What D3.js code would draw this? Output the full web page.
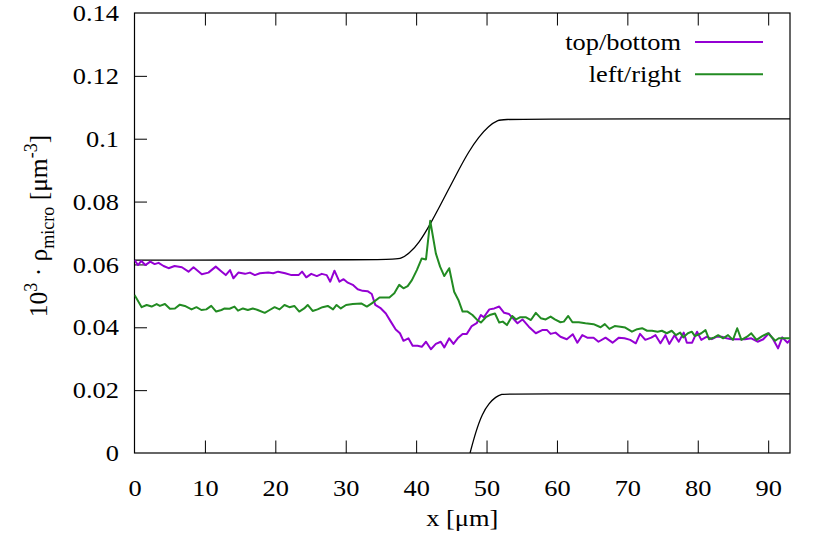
<!DOCTYPE html>
<html>
<head>
<meta charset="utf-8">
<script src="https://cdn.jsdelivr.net/npm/d3@7"></script>
<style>
  body { margin: 0; background: #fff; }
  text { font-family: "Liberation Serif", "Times New Roman", serif; fill: #000; }
</style>
</head>
<body>
<svg id="chart" width="830" height="551"></svg>
<script>
// values: [x in µm, density]
var topBottom = [[0,0.0614],[0.5,0.0598],[0.97,0.0611],[1.54,0.0598],[2.24,0.0609],[2.86,0.0601],[3.42,0.0605],[4.13,0.0595],[4.84,0.0588],[5.69,0.0595],[6.73,0.0591],[7.67,0.0577],[8.38,0.0591],[9.56,0.0569],[10.5,0.0574],[11.54,0.0593],[12.39,0.0577],[12.96,0.0566],[13.57,0.0582],[14.05,0.0556],[14.75,0.0574],[15.7,0.0570],[16.4,0.0574],[17.1,0.0566],[17.8,0.0572],[19.0,0.0574],[19.7,0.0572],[20.4,0.0577],[21.4,0.0572],[22.3,0.0566],[23.3,0.0566],[23.8,0.0577],[24.4,0.0559],[25.1,0.0570],[25.9,0.0563],[26.6,0.0570],[27.3,0.0566],[27.8,0.0545],[28.4,0.0580],[29.1,0.0545],[29.7,0.0553],[30.3,0.0542],[31.0,0.0535],[31.7,0.0521],[32.4,0.0516],[33.1,0.0515],[33.7,0.0506],[34.2,0.0471],[35.0,0.0460],[35.7,0.0444],[36.4,0.0418],[37.1,0.0393],[37.7,0.0381],[38.2,0.0357],[38.9,0.0365],[39.5,0.0341],[40.2,0.0341],[40.8,0.0338],[41.4,0.0354],[42.1,0.0330],[42.8,0.0347],[43.5,0.0354],[44.0,0.0336],[44.7,0.0365],[45.3,0.0347],[45.9,0.0365],[46.6,0.0379],[47.2,0.0379],[47.9,0.0404],[48.6,0.0413],[49.2,0.0439],[49.6,0.0432],[50.4,0.0457],[51.1,0.0460],[51.8,0.0466],[52.5,0.0446],[53.2,0.0442],[54.4,0.0413],[55.1,0.0425],[56.0,0.0402],[57.0,0.0381],[57.9,0.0391],[58.6,0.0391],[59.1,0.0379],[59.8,0.0383],[60.5,0.0370],[61.4,0.0362],[62.25,0.0378],[62.9,0.0351],[63.6,0.0375],[64.3,0.0367],[65.2,0.0367],[65.9,0.0354],[66.9,0.0367],[67.9,0.0351],[68.8,0.0367],[69.6,0.0365],[70.4,0.0360],[71.2,0.0349],[71.8,0.0379],[72.55,0.0360],[73.4,0.0367],[74.0,0.0375],[74.7,0.0349],[75.4,0.0375],[75.95,0.0347],[76.7,0.0375],[77.3,0.0354],[78.0,0.0383],[78.45,0.0351],[79.2,0.0351],[79.9,0.0386],[80.5,0.0360],[81.3,0.0370],[82.0,0.0362],[82.7,0.0370],[83.4,0.0370],[84.1,0.0365],[84.8,0.0362],[85.7,0.0362],[86.7,0.0362],[87.6,0.0365],[88.5,0.0354],[89.3,0.0362],[90.1,0.0381],[90.7,0.0362],[91.4,0.0333],[92.0,0.0368],[92.75,0.0351],[93.1,0.0360]];

var leftRight = [[0,0.0503],[1.02,0.0464],[1.73,0.0471],[2.43,0.0466],[3.14,0.0474],[3.61,0.0468],[4.32,0.0474],[5.03,0.0459],[5.74,0.0460],[6.44,0.0472],[7.15,0.0468],[8.1,0.0457],[8.8,0.0464],[9.5,0.0455],[10.2,0.0457],[10.9,0.0468],[11.6,0.0450],[12.35,0.0455],[12.8,0.0460],[13.5,0.0459],[14.2,0.0466],[14.7,0.0453],[15.4,0.0460],[16.1,0.0455],[16.8,0.0460],[17.5,0.0455],[18.5,0.0446],[19.2,0.0455],[19.9,0.0464],[20.6,0.0457],[21.3,0.0471],[22.0,0.0464],[22.7,0.0468],[23.4,0.0450],[24.1,0.0460],[24.6,0.0471],[25.3,0.0452],[26.0,0.0457],[26.7,0.0464],[27.45,0.0468],[28.2,0.0457],[28.7,0.0471],[29.3,0.0460],[30.05,0.0471],[31.0,0.0474],[32.2,0.0476],[33.0,0.0466],[33.7,0.0476],[34.8,0.0495],[36.2,0.0495],[36.9,0.0508],[37.6,0.0535],[38.2,0.0524],[38.8,0.0531],[39.4,0.0550],[40.1,0.0582],[40.8,0.0619],[41.4,0.0616],[42.0,0.0739],[42.8,0.0635],[43.4,0.0593],[44.0,0.0563],[44.7,0.0588],[45.4,0.0513],[46.0,0.0487],[46.6,0.0450],[47.3,0.0450],[48.0,0.0439],[48.6,0.0425],[49.2,0.0415],[49.9,0.0432],[50.45,0.0439],[51.2,0.0444],[51.8,0.0415],[52.3,0.0418],[52.9,0.0407],[53.65,0.0436],[54.2,0.0425],[54.8,0.0432],[55.55,0.0432],[56.3,0.0423],[57.0,0.0446],[57.7,0.0429],[58.4,0.0425],[59.1,0.0434],[59.7,0.0425],[60.5,0.0416],[60.98,0.0418],[61.6,0.0436],[62.2,0.0416],[63.1,0.0416],[64.05,0.0413],[65.2,0.0410],[66.2,0.0400],[66.8,0.0410],[67.45,0.0395],[68.2,0.0404],[69.0,0.0402],[69.7,0.0399],[70.65,0.0386],[71.4,0.0394],[72.1,0.0397],[72.8,0.0389],[73.5,0.0389],[74.3,0.0386],[74.9,0.0389],[75.6,0.0381],[76.3,0.0389],[76.9,0.0375],[77.5,0.0383],[77.95,0.0368],[78.6,0.0381],[79.15,0.0386],[79.6,0.0372],[80.5,0.0381],[81.1,0.0391],[81.6,0.0362],[82.35,0.0368],[82.9,0.0375],[83.6,0.0365],[84.3,0.0375],[85.0,0.0360],[85.6,0.0397],[86.2,0.0360],[87.0,0.0370],[87.6,0.0381],[88.35,0.0360],[89.15,0.0372],[90.0,0.0381],[91.0,0.0357],[91.5,0.0365],[92.3,0.0365],[93.1,0.0365]];

// black outline curves
var upperWall = [[0,0.0614],[36.85,0.0614],[37.9,0.0619],[38.97,0.0634],[40.38,0.0667],[42.05,0.0730],[43.22,0.0779],[44.63,0.0840],[46.05,0.0901],[47.46,0.0959],[48.88,0.1005],[50.29,0.1041],[51.71,0.1060],[52.5,0.1063],[93.1,0.1063]];
var lowerWall = [[47.66,0],[48.47,0.0068],[49.41,0.0126],[50.35,0.0158],[51.3,0.0179],[52.24,0.0188],[52.72,0.0188],[93.1,0.0188]];

var xTicks = [0,10,20,30,40,50,60,70,80,90];
var yTicks = [0,0.02,0.04,0.06,0.08,0.1,0.12,0.14];
var seriesNames = ["top/bottom", "left/right"];
var seriesColors = ["#9400d3", "#228b22"];

var padL = 134.5, padR = 790, padT = 13, padB = 453;
var fontPx = 24, stretchX = 1.1;

var svg = d3.select("#chart");

var x = d3.scaleLinear().domain([0, 93.1]).range([padL, padR]);
var y = d3.scaleLinear().domain([0, 0.14]).range([padB, padT]);

// the reference type is a bit wider than Times, widen horizontal text around its anchor
function widen(sel) {
  sel.each(function() {
    var ax = +(this.getAttribute("x") || 0);
    d3.select(this).attr("transform",
      "translate(" + ax + ",0) scale(" + stretchX + ",1) translate(" + (-ax) + ",0)");
  });
}

svg.append("defs").append("clipPath").attr("id", "plotclip")
  .append("rect")
  .attr("x", padL).attr("y", padT)
  .attr("width", padR - padL).attr("height", padB - padT);

// axes, ticks pointing inward
var xAxis = svg.append("g")
  .attr("transform", "translate(0," + padB + ")")
  .call(d3.axisBottom(x).tickValues(xTicks).tickSize(-12.5).tickPadding(26).tickFormat(d3.format("d")));

var xTop = svg.append("g")
  .attr("transform", "translate(0," + padT + ")")
  .call(d3.axisTop(x).tickValues(xTicks).tickSize(-12.5).tickFormat(""));

var yAxis = svg.append("g")
  .attr("transform", "translate(" + padL + ",0)")
  .call(d3.axisLeft(y).tickValues(yTicks).tickSize(-12.5).tickPadding(15.5)
    .tickFormat(function(d) { return d === 0 ? "0" : String(+d.toFixed(2)); }));

svg.selectAll(".domain").remove();
svg.selectAll(".tick line").attr("stroke", "#000").attr("stroke-width", 1);
svg.selectAll(".tick text").style("font-family", "Liberation Serif, serif").style("font-size", fontPx + "px");
xAxis.selectAll(".tick").filter(function(d) { return d === 0; }).select("line").remove();
xTop.selectAll(".tick").filter(function(d) { return d === 0; }).select("line").remove();
yAxis.selectAll(".tick").filter(function(d) { return d === 0 || d === 0.14; }).select("line").remove();
widen(svg.selectAll(".tick text"));

// frame
svg.append("rect")
  .attr("x", padL).attr("y", padT)
  .attr("width", padR - padL).attr("height", padB - padT)
  .attr("fill", "none").attr("stroke", "#000").attr("stroke-width", 1.2);

var plot = svg.append("g").attr("clip-path", "url(#plotclip)");

var line = d3.line().x(function(d) { return x(d[0]); }).y(function(d) { return y(d[1]); });
var smooth = d3.line().curve(d3.curveBasis).x(function(d) { return x(d[0]); }).y(function(d) { return y(d[1]); });

plot.append("path").datum(upperWall).attr("d", smooth)
  .attr("fill", "none").attr("stroke", "#000").attr("stroke-width", 1.3);
plot.append("path").datum(lowerWall).attr("d", smooth)
  .attr("fill", "none").attr("stroke", "#000").attr("stroke-width", 1.3);

[topBottom, leftRight].forEach(function(s, i) {
  plot.append("path").datum(s).attr("d", line)
    .attr("fill", "none").attr("stroke", seriesColors[i])
    .attr("stroke-width", 2).attr("stroke-linejoin", "round");
});

// legend
seriesNames.forEach(function(name, i) {
  var ly = 42 + i * 32.3;
  svg.append("text").attr("class", "flat").attr("x", 681).attr("y", ly).attr("dy", "0.33em")
    .attr("text-anchor", "end").style("font-size", fontPx + "px").text(name);
  svg.append("line").attr("x1", 695).attr("x2", 763).attr("y1", ly).attr("y2", ly)
    .attr("stroke", seriesColors[i]).attr("stroke-width", 2);
});

// axis titles
svg.append("text").attr("class", "flat").attr("x", (padL + padR) / 2).attr("y", 526)
  .attr("text-anchor", "middle").style("font-size", fontPx + "px").text("x [μm]");
widen(svg.selectAll("text.flat"));

var yl = svg.append("text")
  .attr("transform", "translate(47,226) rotate(-90)")
  .attr("text-anchor", "middle").style("font-size", "25.5px");
yl.append("tspan").text("10");
yl.append("tspan").attr("dy", -10).style("font-size", "18px").text("3");
yl.append("tspan").attr("dy", 10).text(" · ρ");
yl.append("tspan").attr("dy", 7).style("font-size", "18px").text("micro");
yl.append("tspan").attr("dy", -7).text(" [μm");
yl.append("tspan").attr("dy", -10).style("font-size", "18px").text("-3");
yl.append("tspan").attr("dy", 10).text("]");
</script>
</body>
</html>
